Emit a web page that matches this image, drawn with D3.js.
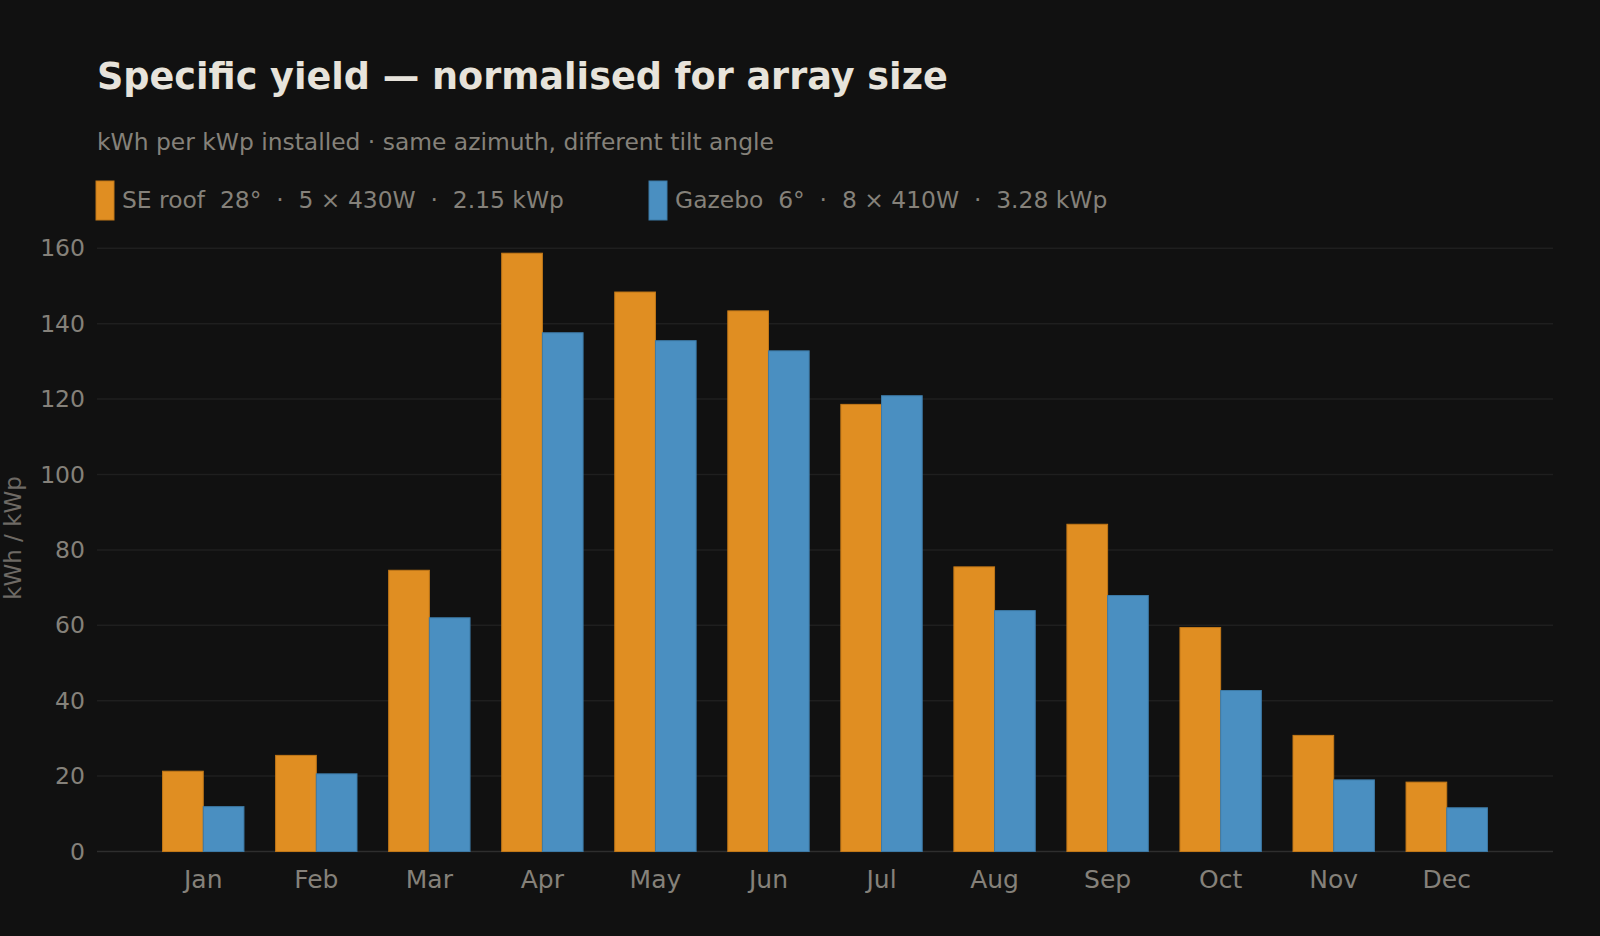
<!DOCTYPE html>
<html>
<head>
<meta charset="utf-8">
<script src="https://cdn.jsdelivr.net/npm/d3@7/dist/d3.min.js"></script>
<style>
  html, body { margin: 0; padding: 0; background: #111111; }
  svg { display: block; font-family: "DejaVu Sans", sans-serif; }
  text { white-space: pre; }
</style>
</head>
<body>
<svg id="chart" width="1600" height="936"></svg>
<script>
const months = ["Jan","Feb","Mar","Apr","May","Jun","Jul","Aug","Sep","Oct","Nov","Dec"];
const seriesNames = ["SE roof  28°  ·  5 × 430W  ·  2.15 kWp", "Gazebo  6°  ·  8 × 410W  ·  3.28 kWp"];
const seRoof = [21.3, 25.5, 74.6, 158.7, 148.4, 143.4, 118.6, 75.5, 86.8, 59.4, 30.8, 18.4];
const gazebo = [11.9, 20.6, 62.0, 137.6, 135.5, 132.8, 120.9, 63.9, 67.9, 42.7, 19.0, 11.6];
const yTicks = [0, 20, 40, 60, 80, 100, 120, 140, 160];
const titleText = "Specific yield — normalised for array size";
const subtitleText = "kWh per kWp installed · same azimuth, different tilt angle";
const yTitle = "kWh / kWp";

const colors = ["#e08e22", "#4a8fc1"];
const strokes = ["#c27818", "#3d7aa6"];

(function () {
const svg = d3.select("#chart");
const W = 1600, H = 936;
svg.append("rect").attr("width", W).attr("height", H).attr("fill", "#111111");

const mLeft = 97, mRight = 1553, mTop = 248.3, mBottom = 851.5;

const x = d3.scaleBand().domain(months).range([mLeft, mRight]).paddingInner(0.28).paddingOuter(0.58);
const x1 = d3.scaleBand().domain([0, 1]).range([0, x.bandwidth()]).padding(0);
const y = d3.scaleLinear().domain([0, 160]).range([mBottom, mTop]);

// grid
svg.append("g").selectAll("line").data(yTicks).join("line")
  .attr("x1", mLeft).attr("x2", mRight)
  .attr("y1", d => y(d)).attr("y2", d => y(d))
  .attr("stroke", d => d === 0 ? "#2e2e2e" : "#1f1f1f")
  .attr("stroke-width", 1.5);

// y axis
const yAxis = d3.axisLeft(y).tickValues(yTicks).tickSize(0).tickPadding(12);
const gy = svg.append("g").attr("transform", `translate(${mLeft},0)`).call(yAxis);
gy.select(".domain").remove();
gy.selectAll("text").attr("fill", "#85817a").attr("font-size", 23.5).attr("font-family", "DejaVu Sans");

// x axis
const xAxis = d3.axisBottom(x).tickSize(0).tickPadding(19);
const gx = svg.append("g").attr("transform", `translate(0,${mBottom})`).call(xAxis);
gx.select(".domain").remove();
gx.selectAll("text").attr("fill", "#85817a").attr("font-size", 25).attr("font-family", "DejaVu Sans");

// bars
const series = [seRoof, gazebo];
series.forEach((vals, si) => {
  svg.append("g").selectAll("rect").data(vals).join("rect")
    .attr("x", (d, i) => x(months[i]) + x1(si))
    .attr("y", d => y(d))
    .attr("width", x1.bandwidth())
    .attr("height", d => y(0) - y(d))
    .attr("fill", colors[si])
    .attr("stroke", strokes[si])
    .attr("stroke-width", 1);
});

// title
svg.append("text").attr("x", 97).attr("y", 89)
  .attr("fill", "#e7e3db").attr("font-size", 36.6).attr("font-weight", "bold")
  .text(titleText);
svg.append("text").attr("x", 97).attr("y", 150)
  .attr("fill", "#85817a").attr("font-size", 23.4)
  .text(subtitleText);

// legend
const legendX = [96, 649];
seriesNames.forEach((name, i) => {
  svg.append("rect").attr("x", legendX[i]).attr("y", 181).attr("width", 18).attr("height", 39)
    .attr("fill", colors[i]).attr("stroke", strokes[i]).attr("stroke-width", 1);
  svg.append("text").attr("x", legendX[i] + 26).attr("y", 207.5)
    .attr("fill", "#85817a").attr("font-size", 23.4)
    .text(name);
});

// y title
svg.append("text")
  .attr("transform", "rotate(-90)")
  .attr("x", -538).attr("y", 21)
  .attr("text-anchor", "middle")
  .attr("fill", "#6e6a65").attr("font-size", 23)
  .text(yTitle);
})();
</script>
</body>
</html>
